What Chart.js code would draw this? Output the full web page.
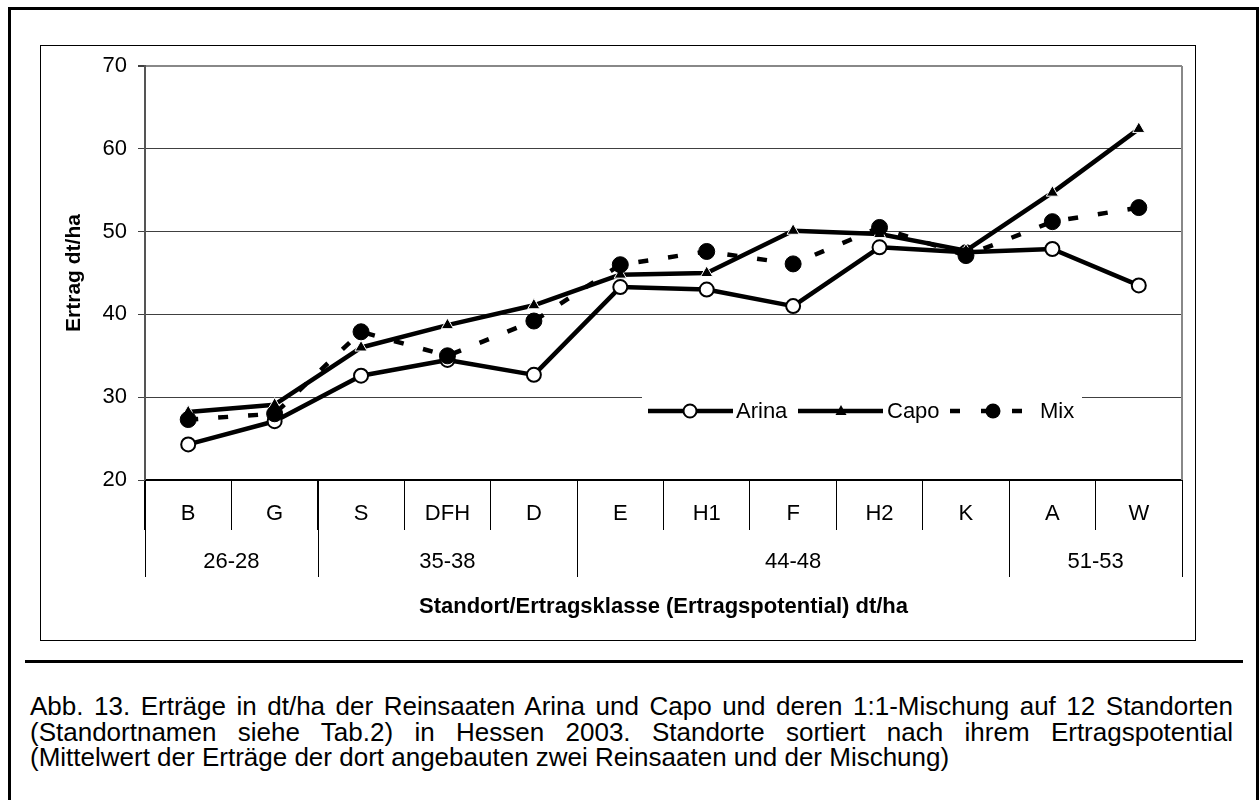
<!DOCTYPE html>
<html lang="de">
<head>
<meta charset="UTF-8">
<title>Erträge Hessen 2003</title>
<script src="https://cdn.jsdelivr.net/npm/chart.js"></script>
<style>
  body { margin: 0; background: #fff; font-family: "Liberation Sans", Arial, sans-serif; }
  .page { position: relative; width: 1259px; height: 800px; overflow: hidden; }
  .outer { position: absolute; left: 8px; top: 7px; width: 1251px; height: 800px; border: 3px solid #000; box-sizing: border-box; }
  .inner { position: absolute; left: 40px; top: 45px; width: 1156px; height: 596px; border: 1px solid #000; box-sizing: border-box; }
  .rule { position: absolute; left: 25px; top: 660px; width: 1218px; height: 3px; background: #000; }
  .cap { position: absolute; left: 30px; width: 1203px; font-size: 26px; line-height: 26px; color: #000; }
  .just { text-align: justify; text-align-last: justify; }
  #chart { position: absolute; left: 0; top: 0; }
</style>
</head>
<body>
<div class="page">
  <div class="outer"></div>
  <div class="inner"></div>
  <div class="rule"></div>
  <div class="cap just" style="top:693px">Abb. 13. Erträge in dt/ha der Reinsaaten Arina und Capo und deren 1:1-Mischung auf 12 Standorten</div>
  <div class="cap just" style="top:719px">(Standortnamen siehe Tab.2) in Hessen 2003. Standorte sortiert nach ihrem Ertragspotential</div>
  <div class="cap" style="top:744px">(Mittelwert der Erträge der dort angebauten zwei Reinsaaten und der Mischung)</div>
  <canvas id="chart" width="1259" height="800"></canvas>
</div>

<script>
  // Standorte und Ertragsklassen
  const sites = ['B', 'G', 'S', 'DFH', 'D', 'E', 'H1', 'F', 'H2', 'K', 'A', 'W'];
  const groupLabels = ['26-28', '35-38', '44-48', '51-53'];
  const groupSizes = [2, 3, 5, 2];

  // Erträge dt/ha
  const arina = [24.3, 27.1, 32.6, 34.5, 32.7, 43.3, 43.0, 41.0, 48.1, 47.5, 47.9, 43.5];
  const capo = [28.2, 29.1, 36.0, 38.7, 41.1, 44.8, 45.0, 50.1, 49.7, 47.7, 54.7, 62.4];
  const mix = [27.3, 28.0, 37.9, 35.0, 39.2, 46.0, 47.6, 46.1, 50.5, 47.1, 51.2, 52.9];

  const yMin = 20, yMax = 70, yStep = 10;

  const FONT = '"Liberation Sans", Arial, sans-serif';

  const extras = {
    id: 'extras',
    afterDraw(chart) {
      const { ctx, chartArea: a, scales: { x } } = chart;
      const step = x.getPixelForValue(1) - x.getPixelForValue(0);
      const edge = i => Math.round(x.getPixelForValue(i) - step / 2) + 0.5;

      ctx.save();
      // right edge of plot area
      ctx.strokeStyle = '#888';
      ctx.lineWidth = 2;
      ctx.beginPath();
      ctx.moveTo(a.right, a.top);
      ctx.lineTo(a.right, a.bottom);
      ctx.stroke();

      // group separators and labels
      ctx.strokeStyle = '#000';
      ctx.lineWidth = 1;
      ctx.fillStyle = '#000';
      ctx.font = '22px ' + FONT;
      ctx.textAlign = 'center';
      ctx.textBaseline = 'middle';
      let start = 0;
      const lines = [0];
      groupSizes.forEach((n, g) => {
        const end = start + n;
        lines.push(end);
        const cx = (x.getPixelForValue(start) + x.getPixelForValue(end - 1)) / 2;
        ctx.fillText(groupLabels[g], cx, 562);
        start = end;
      });
      lines.forEach(i => {
        const px = edge(i);
        ctx.beginPath();
        ctx.moveTo(px, a.bottom);
        ctx.lineTo(px, 577);
        ctx.stroke();
      });

      // legend
      const ly = 411;
      ctx.fillStyle = '#fff';
      ctx.fillRect(642, 394, 440, 32);
      ctx.strokeStyle = '#000';
      ctx.lineWidth = 4.5;
      ctx.lineCap = 'butt';

      // Arina
      ctx.beginPath(); ctx.moveTo(648, ly); ctx.lineTo(733, ly); ctx.stroke();
      ctx.beginPath(); ctx.arc(690, ly, 6.5, 0, Math.PI * 2);
      ctx.fillStyle = '#fff'; ctx.fill();
      ctx.lineWidth = 2; ctx.stroke();

      // Capo
      ctx.lineWidth = 4.5;
      ctx.beginPath(); ctx.moveTo(798, ly); ctx.lineTo(883, ly); ctx.stroke();
      ctx.fillStyle = '#000';
      ctx.beginPath();
      ctx.moveTo(841, ly - 6); ctx.lineTo(846.5, ly + 4); ctx.lineTo(835.5, ly + 4);
      ctx.closePath(); ctx.fill();

      // Mix
      ctx.setLineDash([10, 21]);
      ctx.beginPath(); ctx.moveTo(950, ly); ctx.lineTo(1035, ly); ctx.stroke();
      ctx.setLineDash([]);
      ctx.beginPath(); ctx.arc(993, ly, 7.5, 0, Math.PI * 2); ctx.fill();

      ctx.fillStyle = '#000';
      ctx.font = '22px ' + FONT;
      ctx.textAlign = 'left';
      ctx.fillText('Arina', 736, ly + 1);
      ctx.fillText('Capo', 887, ly + 1);
      ctx.fillText('Mix', 1040, ly + 1);
      ctx.restore();
    }
  };

  const ctx = document.getElementById('chart').getContext('2d');
  new Chart(ctx, {
    type: 'line',
    data: {
      labels: sites,
      datasets: [
        {
          label: 'Arina',
          data: arina,
          order: 3,
          borderColor: '#000',
          borderWidth: 4.5,
          borderJoinStyle: 'round',
          pointStyle: 'circle',
          pointRadius: 7,
          pointBackgroundColor: '#fff',
          pointBorderColor: '#000',
          pointBorderWidth: 2
        },
        {
          label: 'Capo',
          data: capo,
          order: 2,
          borderColor: '#000',
          borderWidth: 4.5,
          borderJoinStyle: 'round',
          pointStyle: 'triangle',
          pointRadius: 7,
          pointBackgroundColor: '#000',
          pointBorderColor: '#fff',
          pointBorderWidth: 1
        },
        {
          label: 'Mix',
          data: mix,
          order: 1,
          borderColor: '#000',
          borderWidth: 4.5,
          borderDash: [10, 20],
          pointStyle: 'circle',
          pointRadius: 8,
          pointBackgroundColor: '#000',
          pointBorderColor: '#000',
          pointBorderWidth: 1
        }
      ]
    },
    options: {
      responsive: false,
      animation: false,
      devicePixelRatio: 1,
      layout: { padding: { left: 40, top: 66, right: 77, bottom: 170 } },
      plugins: {
        legend: { display: false },
        tooltip: { enabled: false }
      },
      scales: {
        x: {
          offset: true,
          afterFit: s => { s.height = 150; },
          border: { color: '#000', width: 1.5 },
          grid: { offset: true, drawOnChartArea: false, tickLength: 50, color: '#000', lineWidth: 1 },
          ticks: {
            padding: -29,
            autoSkip: false,
            maxRotation: 0,
            color: '#000',
            font: { family: FONT, size: 22 }
          },
          title: {
            display: true,
            text: 'Standort/Ertragsklasse (Ertragspotential) dt/ha',
            color: '#000',
            font: { family: FONT, size: 22, weight: 'bold' },
            padding: { top: 0, bottom: 10 }
          }
        },
        y: {
          min: yMin,
          max: yMax,
          afterFit: s => { s.width = 105; },
          border: { color: '#555', width: 2 },
          grid: {
            color: c => c.tick && c.tick.value === yMax ? '#888' : (c.tick && c.tick.value === yMin ? '#000' : '#404040'),
            lineWidth: c => c.tick && c.tick.value === yMax ? 2 : 1,
            tickColor: '#404040',
            tickLength: 7
          },
          ticks: {
            stepSize: yStep,
            padding: 11,
            color: '#000',
            font: { family: FONT, size: 22 }
          },
          title: {
            display: true,
            text: 'Ertrag dt/ha',
            color: '#000',
            font: { family: FONT, size: 21, weight: 'bold' },
            padding: { top: 22, bottom: 0 }
          }
        }
      }
    },
    plugins: [extras]
  });
</script>
</body>
</html>
